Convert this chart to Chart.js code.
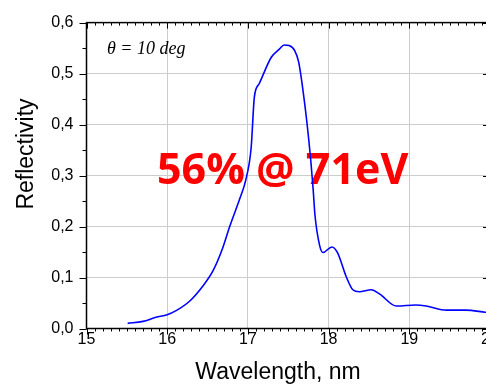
<!DOCTYPE html>
<html>
<head>
<meta charset="utf-8">
<script src="https://cdn.jsdelivr.net/npm/chart.js@4.4.1/dist/chart.umd.min.js"></script>
<style>
  html, body { margin: 0; padding: 0; background: #fff; overflow: hidden; }
  #wrap { width: 510px; height: 384px; }
</style>
</head>
<body>
<div id="wrap"><canvas id="c"></canvas></div>
<script>
// 反射率曲线，读图所得
const wavelength = [15.51, 15.70, 15.86, 16.00, 16.11, 16.28, 16.44, 16.57, 16.69, 16.77,
  16.90, 16.97, 17.04, 17.08, 17.14, 17.29, 17.39, 17.45, 17.51, 17.58,
  17.63, 17.68, 17.73, 17.78, 17.81, 17.83, 17.89, 17.93, 18.04, 18.11,
  18.22, 18.30, 18.38, 18.53, 18.63, 18.84, 19.08, 19.21, 19.46, 19.70,
  19.94, 20.00];
const reflectivity = [0.010, 0.014, 0.022, 0.027, 0.035, 0.054, 0.083, 0.114, 0.159, 0.198,
  0.255, 0.289, 0.354, 0.454, 0.480, 0.532, 0.548, 0.556, 0.555, 0.545,
  0.522, 0.470, 0.406, 0.328, 0.270, 0.224, 0.162, 0.149, 0.160, 0.149,
  0.101, 0.076, 0.072, 0.076, 0.068, 0.044, 0.046, 0.044, 0.036, 0.036,
  0.032, 0.031];
const xTicks = [15, 16, 17, 18, 19, 20];
const yTicks = [0, 0.1, 0.2, 0.3, 0.4, 0.5, 0.6];

const angleLabel = 'θ = 10 deg';
const peakLabel = '56% @ 71eV';
const xTitle = 'Wavelength, nm';
const yTitle = 'Reflectivity';

const sans = '"Liberation Sans", Arial, sans-serif';

// 边框、刻度、标题
const framePlugin = {
  id: 'frame',
  beforeDatasetsDraw(chart) {
    const ctx = chart.ctx;
    ctx.save();
    ctx.fillStyle = '#ff0000';
    ctx.font = 'bold 43px "Open Sans", sans-serif';
    ctx.textAlign = 'left';
    ctx.textBaseline = 'alphabetic';
    ctx.fillText(peakLabel, 157, 184);
    ctx.restore();
  },
  afterDraw(chart) {
    const ctx = chart.ctx;
    const a = chart.chartArea;
    const xs = chart.scales.x, ys = chart.scales.y;
    ctx.save();
    ctx.strokeStyle = '#000';
    ctx.lineWidth = 1.5;
    ctx.strokeRect(a.left, a.top, a.right - a.left, a.bottom - a.top);

    ctx.lineWidth = 1;
    ctx.beginPath();
    for (let i = 150; i <= 200; i++) {
      const px = Math.round(xs.getPixelForValue(i / 10)) + 0.5;
      const major = i % 10 === 0;
      const len = major ? 6 : 3;
      ctx.moveTo(px, a.bottom); ctx.lineTo(px, a.bottom + len);   // 下方朝外
      ctx.moveTo(px, a.top); ctx.lineTo(px, a.top + len);         // 上方朝内
    }
    for (let i = 0; i <= 12; i++) {
      const py = Math.round(ys.getPixelForValue(i * 0.05)) + 0.5;
      const major = i % 2 === 0;
      const len = major ? 7 : 4;
      ctx.moveTo(a.left, py); ctx.lineTo(a.left - len, py);       // 左侧朝外
      ctx.moveTo(a.right, py); ctx.lineTo(a.right - len, py);     // 右侧朝内
    }
    ctx.stroke();

    ctx.fillStyle = '#000';
    ctx.font = '23px ' + sans;
    ctx.textAlign = 'center';
    ctx.textBaseline = 'alphabetic';
    ctx.fillText(xTitle, 278, 379);

    ctx.save();
    ctx.translate(33, 154);
    ctx.rotate(-Math.PI / 2);
    ctx.fillText(yTitle, 0, 0);
    ctx.restore();

    ctx.font = 'italic 18px "Liberation Serif", "Times New Roman", serif';
    ctx.textAlign = 'left';
    ctx.fillText(angleLabel, 107, 54);
    ctx.restore();
  }
};

new Chart(document.getElementById('c'), {
  type: 'scatter',
  data: {
    datasets: [{
      data: wavelength.map((x, i) => ({ x: x, y: reflectivity[i] })),
      showLine: true,
      borderColor: '#0000ff',
      borderWidth: 1.6,
      pointRadius: 0,
      cubicInterpolationMode: 'monotone',
      fill: false
    }]
  },
  plugins: [framePlugin],
  options: {
    responsive: true,
    maintainAspectRatio: false,
    animation: false,
    layout: { padding: { top: 20, right: 20, bottom: 0, left: 0 } },
    plugins: { legend: { display: false }, tooltip: { enabled: false } },
    scales: {
      x: {
        type: 'linear',
        min: 15, max: 20,
        afterBuildTicks: s => { s.ticks = xTicks.map(v => ({ value: v })); },
        afterFit: s => { s.height = 55.5; },
        ticks: { color: '#000', font: { family: sans, size: 16 }, padding: 1, maxRotation: 0, callback: v => String(v) },
        grid: { color: '#cccccc', lineWidth: 1, drawTicks: false },
        border: { display: false }
      },
      y: {
        min: 0, max: 0.6,
        afterBuildTicks: s => { s.ticks = yTicks.map(v => ({ value: v })); },
        afterFit: s => { s.width = 86.5; },
        ticks: { color: '#000', font: { family: sans, size: 16 }, padding: 13, callback: v => v.toFixed(1).replace('.', ',') },
        grid: { color: '#cccccc', lineWidth: 1, drawTicks: false },
        border: { display: false }
      }
    }
  }
});
</script>
</body>
</html>
